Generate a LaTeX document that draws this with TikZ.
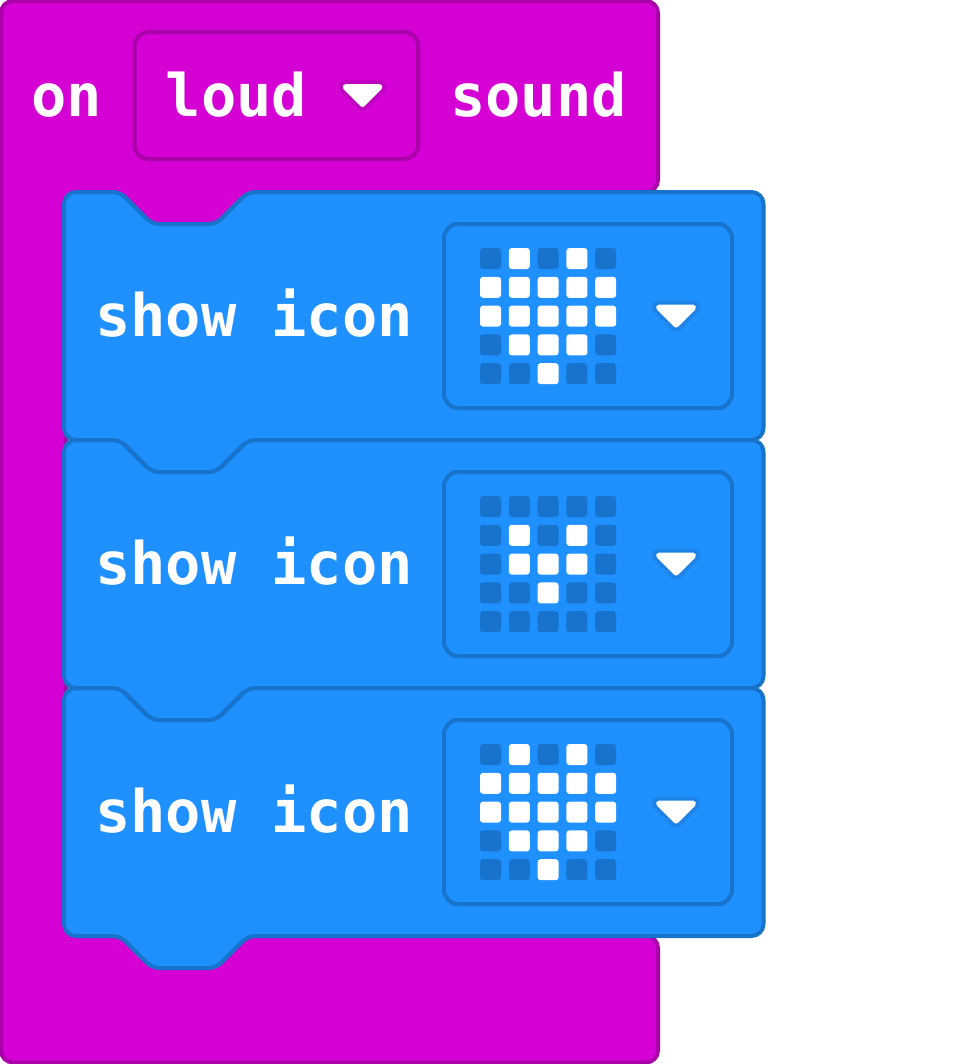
\documentclass[tikz,border=0pt]{standalone}
\usepackage{fontspec}
\setmainfont{DejaVu Sans Mono}
\definecolor{evt}{HTML}{D400D4}
\definecolor{evtd}{HTML}{AA00AA}
\definecolor{blk}{HTML}{1E90FF}
\definecolor{blkd}{HTML}{1873CC}
\definecolor{blka}{HTML}{1E82E6}
\definecolor{evta}{HTML}{C000C0}
\tikzset{
  px/.style={x=0.75pt,y=-0.75pt},
  hatblock/.style={fill=evt,draw=evtd,line width=3pt,rounded corners=9pt},
  stackblock/.style={fill=blk,draw=blkd,line width=3pt,rounded corners=9pt},
  field/.style={line width=3pt,rounded corners=10.5pt},
  label/.style={text=white,font=\fontsize{44}{44}\selectfont\bfseries,anchor=base,inner sep=0pt},
  ledon/.style={fill=white,rounded corners=2.25pt,minimum size=15.75pt,inner sep=0pt,draw=none},
  ledoff/.style={fill=blkd,rounded corners=2.25pt,minimum size=15.75pt,inner sep=0pt,draw=none},
}
\newcommand{\stackblk}[1]{%
  \draw[stackblock,shift={(0,#1)}] (64,192) [rounded corners=5.5pt] -- (120,192) -- (152,224) -- (216,224) -- (248,192) [rounded corners=9pt] -- (763.5,192)
    -- (763.5,440) [rounded corners=5.5pt] -- (248,440) -- (216,472) -- (152,472) -- (120,440) [rounded corners=9pt] -- (64,440) -- cycle;}
\newcommand{\arrowdown}[3]{%
  \draw[#3,line width=10.5pt,line join=round,fill=#3,shift={(#1,#2)}] (-17,-8) -- (17,-8) -- (0,9) -- cycle;
  \draw[white,line width=4.5pt,line join=round,fill=white,shift={(#1,#2)}] (-17,-8) -- (17,-8) -- (0,9) -- cycle;}
\newcommand{\ledgrid}[3]{%
  \foreach \v [count=\i from 0] in {#3} {
    \pgfmathtruncatemacro{\cl}{mod(\i,5)}
    \pgfmathtruncatemacro{\rw}{int(\i/5)}
    \ifnum\v=1\def\st{ledon}\else\def\st{ledoff}\fi
    \node[\st] (led#1-\rw-\cl) at ({490.5+28.8*\cl},{#2+28.8*\rw}) {};
  }}
\begin{document}
\begin{tikzpicture}[px]
\useasboundingbox (0,0) rectangle (972,1064);
\draw[hatblock] (1,1) -- (658,1) -- (658,192) -- (66,192) -- (66,936) -- (658,936) -- (658,1062.5) -- (1,1062.5) -- cycle;
\fill[evt] (80,180) rectangle (300,240);
\draw[field,draw=evtd] (134.5,32) rectangle (418,159);
\node[label] (on) at (66.5,116) {on};
\node[label] (loud) at (236.5,116) {loud};
\node[label] (sound) at (538.5,116) {sound};
\arrowdown{362.5}{95}{evta}
\stackblk{496}
\stackblk{248}
\stackblk{0}
\foreach \o/\n in {0/a,248/b,496/c} {
  \draw[field,draw=blkd] (444,{224+\o}) rectangle (732,{408+\o});
  \node[label] (show\n) at (254,{336+\o}) {show icon};
  \arrowdown{676}{{315.5+\o}}{blka}
}
\ledgrid{a}{258.5}{0,1,0,1,0, 1,1,1,1,1, 1,1,1,1,1, 0,1,1,1,0, 0,0,1,0,0}
\ledgrid{b}{506.5}{0,0,0,0,0, 0,1,0,1,0, 0,1,1,1,0, 0,0,1,0,0, 0,0,0,0,0}
\ledgrid{c}{754.5}{0,1,0,1,0, 1,1,1,1,1, 1,1,1,1,1, 0,1,1,1,0, 0,0,1,0,0}
\end{tikzpicture}
\end{document}
